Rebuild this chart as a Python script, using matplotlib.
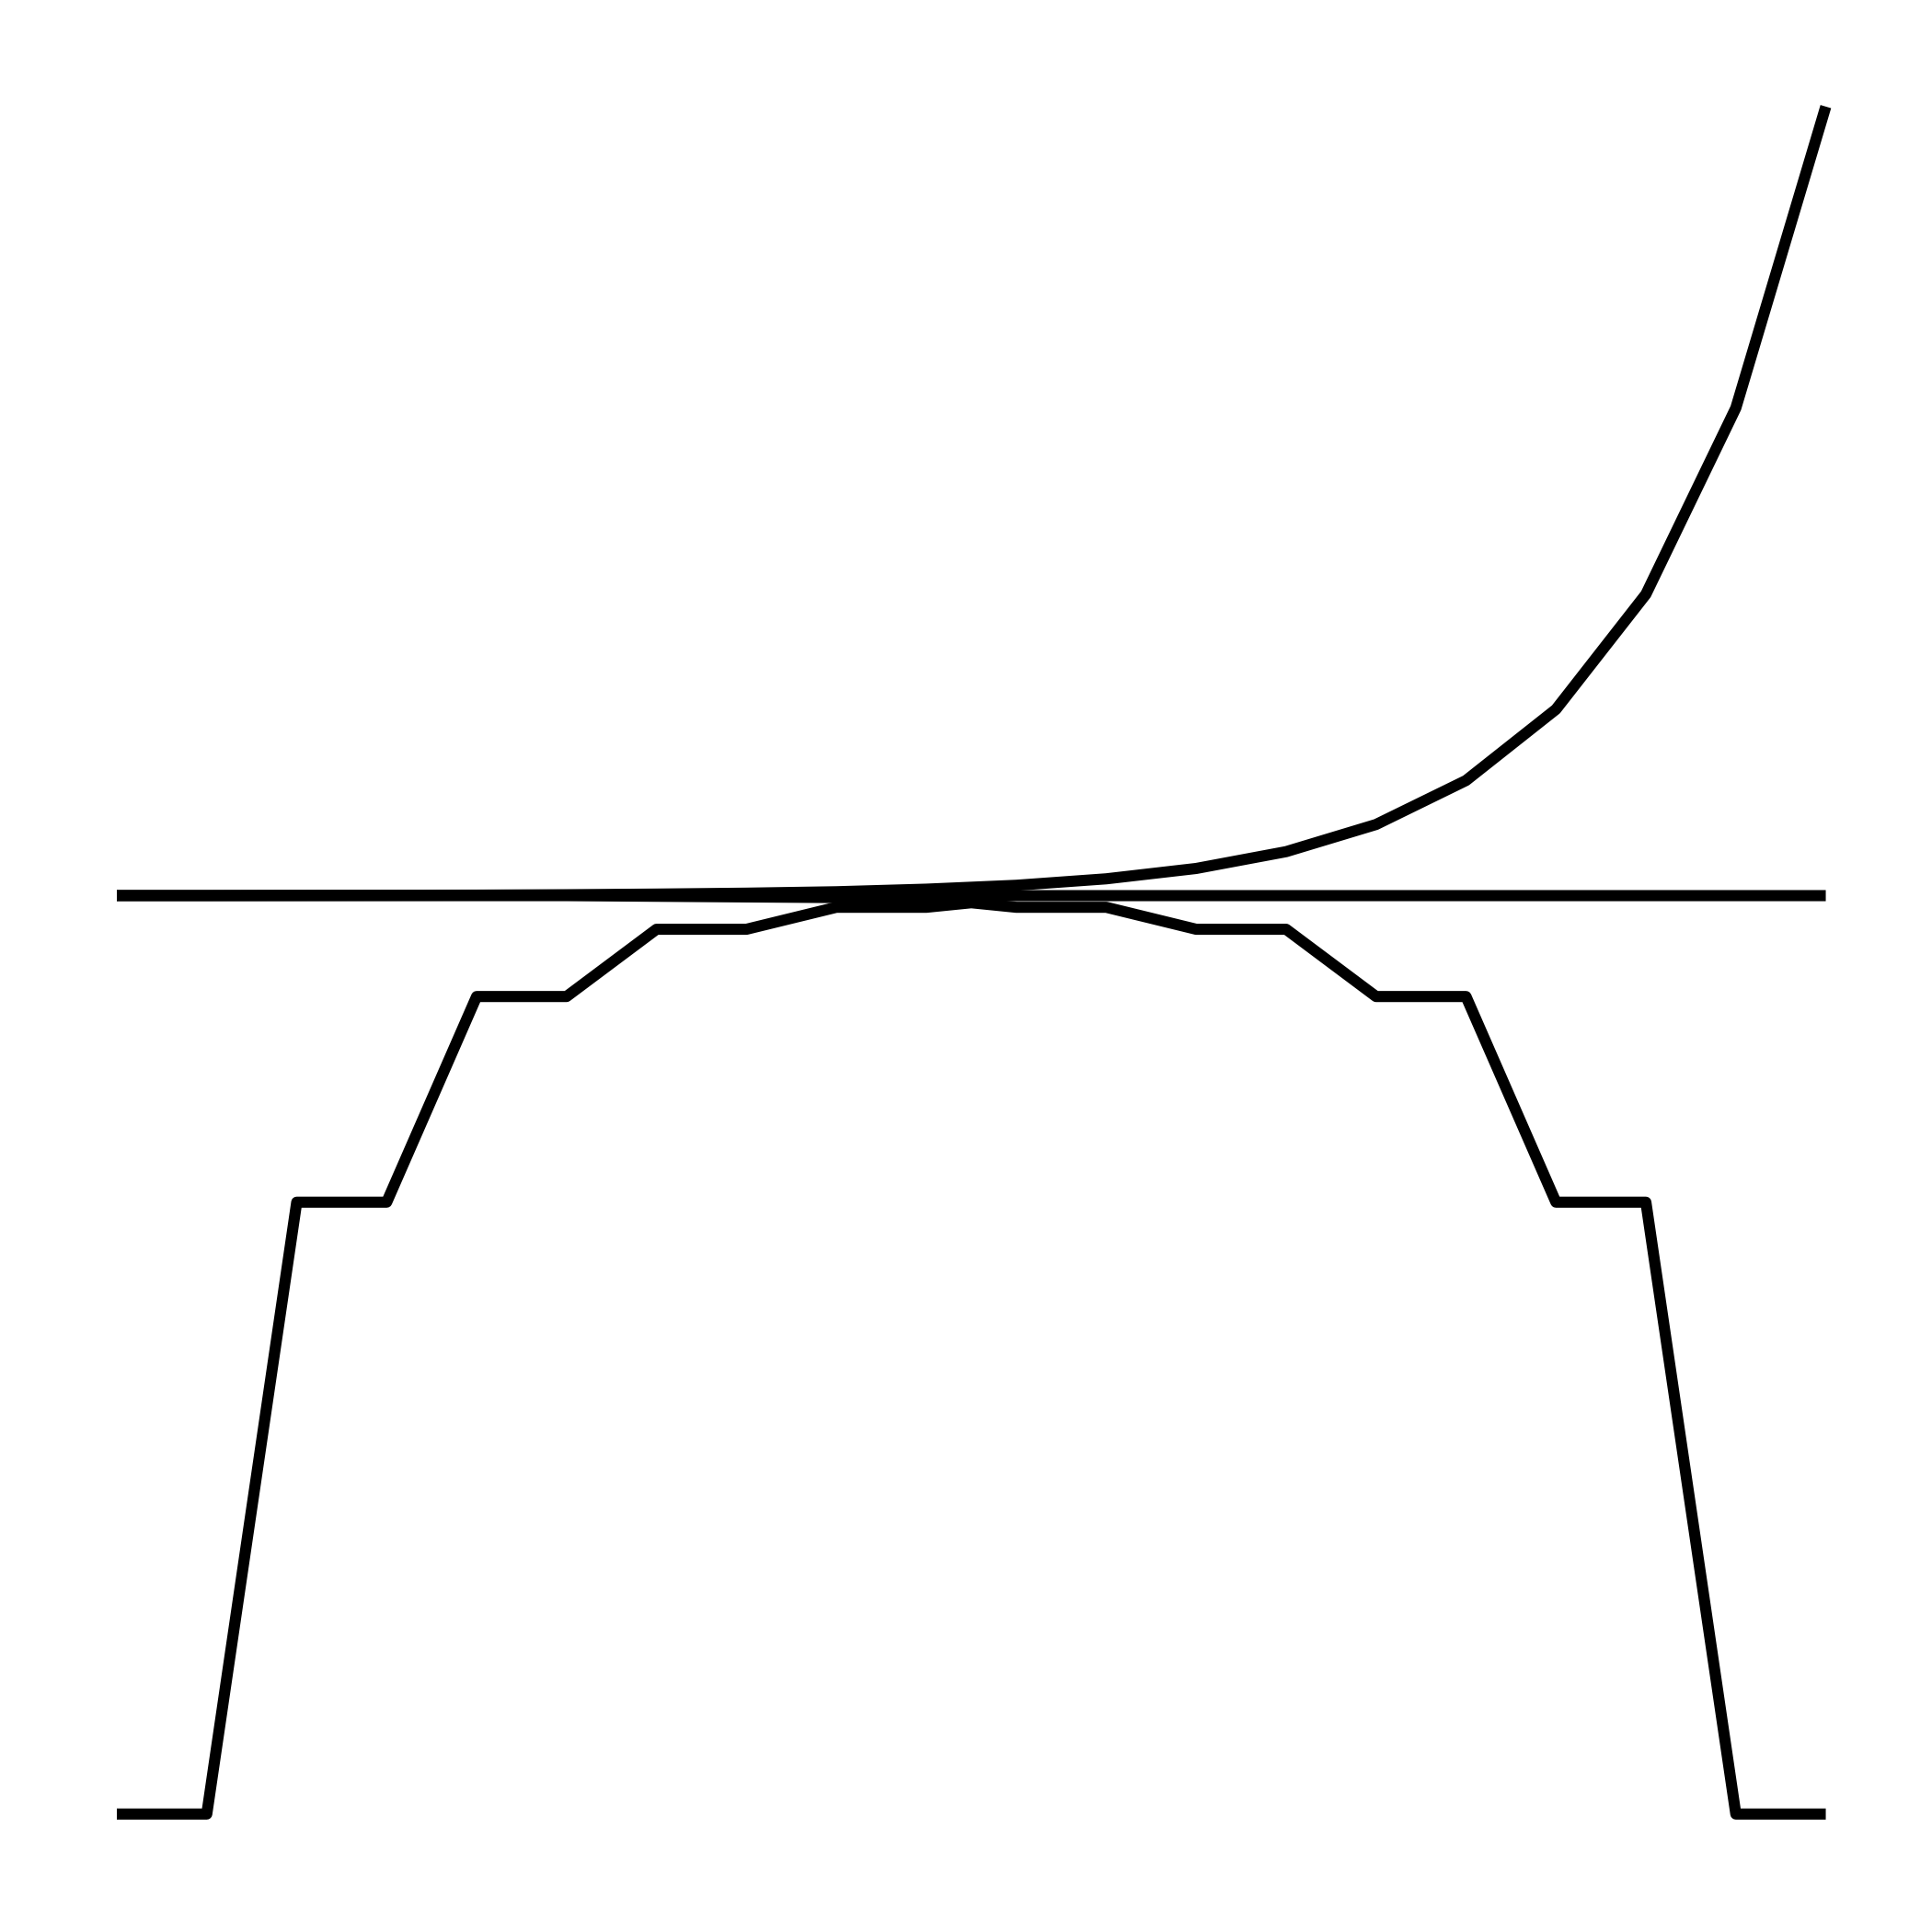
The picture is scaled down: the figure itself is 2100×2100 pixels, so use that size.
import matplotlib
matplotlib.use("Agg")
import matplotlib.pyplot as plt

# x positions (index along the sequence)
idx = list(range(20))
step_x = list(range(10)) + [9.5] + list(range(10, 20))

# values
rising = [0.1, 0.1, 0.2, 0.3, 0.4, 0.7, 1.2, 1.9, 3, 5, 8, 13, 21, 34, 55, 89, 144, 233, 377, 610]
flat = [0, 0, 0, 0, 0, 0, -0.5, -1, -1.5, -1, 0, 0, 0, 0, 0, 0, 0, 0, 0, 0]
steps = [-710, -710, -237, -237, -78, -78, -26, -26, -9, -9, -5.5,
         -9, -9, -26, -26, -78, -78, -237, -237, -710, -710]

fig = plt.figure(figsize=(7, 7), dpi=300)
ax = fig.add_axes([0, 0, 1, 1])

kw = dict(color='black', linewidth=2.9, solid_capstyle='butt', solid_joinstyle='round')
ax.plot(idx, flat, **kw)
ax.plot(idx, rising, **kw)
ax.plot(step_x, steps, **kw)

ax.set_xlim(-1.299, 20.181)
ax.set_ylim(-801.2, 692.4)
ax.axis('off')

fig.savefig('out.png', dpi=300, facecolor='white')
